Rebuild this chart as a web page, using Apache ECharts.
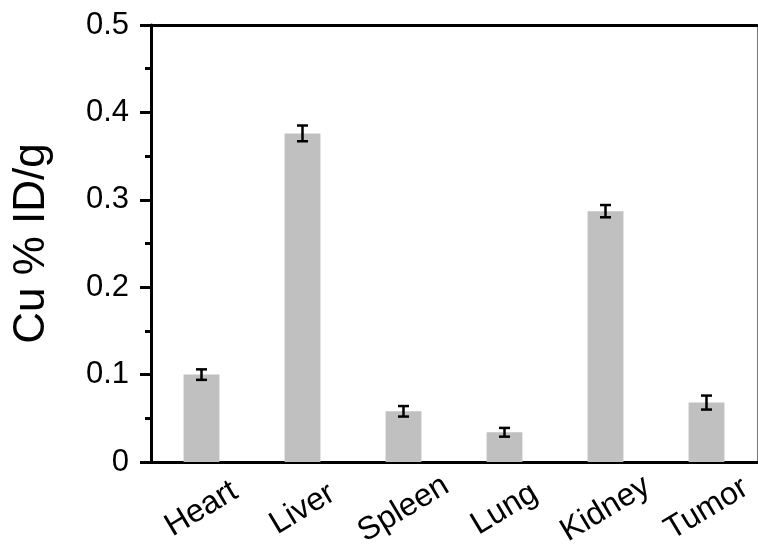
<!DOCTYPE html>
<html>
<head>
<meta charset="utf-8">
<script src="https://cdn.jsdelivr.net/npm/echarts@6/dist/echarts.min.js"></script>
<style>
    html, body { margin: 0; padding: 0; background: #fff; }
    #chart { width: 758px; height: 551px; }
</style>
</head>
<body>
<div id="chart"></div>
<script>
const organs = ['Heart', 'Liver', 'Spleen', 'Lung', 'Kidney', 'Tumor']
const cuValues = [0.100, 0.376, 0.058, 0.034, 0.287, 0.068]
const cuErrors = [0.006, 0.009, 0.006, 0.005, 0.007, 0.008]
const yTicks = [0, 0.1, 0.2, 0.3, 0.4, 0.5]

const font = 'Arial, "Liberation Sans", sans-serif'

let chart = echarts.init(document.getElementById('chart'), null, { renderer: 'canvas' })

const errData = cuValues.map((v, i) => [i, v - cuErrors[i], v + cuErrors[i]])

let option = {
    animation: false,
    backgroundColor: '#fff',
    grid: { left: 151, right: 1, top: 25, bottom: 89 },
    xAxis: [
        {
            type: 'category',
            data: organs,
            axisLine: { onZero: false, lineStyle: { color: '#000', width: 3 } },
            axisTick: { show: false },
            axisLabel: {
                rotate: 31,
                align: 'center',
                verticalAlign: 'middle',
                margin: 47,
                fontSize: 32,
                fontFamily: font,
                color: '#000'
            }
        },
        {
            // top frame line
            type: 'category',
            position: 'top',
            data: organs,
            axisLine: { onZero: false, lineStyle: { color: '#000', width: 3 } },
            axisTick: { show: false },
            axisLabel: { show: false }
        }
    ],
    yAxis: [
        {
            type: 'value',
            min: yTicks[0],
            max: yTicks[yTicks.length - 1],
            interval: 0.1,
            name: 'Cu % ID/g',
            nameLocation: 'middle',
            nameGap: 97,
            nameTextStyle: { fontSize: 44, fontFamily: font, color: '#000' },
            axisLine: { show: true, onZero: false, lineStyle: { color: '#000', width: 3 } },
            axisTick: { show: true, length: 11, lineStyle: { color: '#000', width: 3 } },
            minorTick: { show: true, splitNumber: 2, length: 6, lineStyle: { color: '#000', width: 3 } },
            splitLine: { show: false },
            axisLabel: {
                fontSize: 31,
                fontFamily: font,
                color: '#000',
                margin: 22,
                formatter: v => (v === 0 ? '0' : v.toFixed(1))
            }
        },
        {
            // right frame line
            type: 'value',
            position: 'right',
            min: 0,
            max: 0.5,
            axisLine: { show: true, onZero: false, lineStyle: { color: '#777', width: 1 } },
            axisTick: { show: false },
            axisLabel: { show: false },
            splitLine: { show: false }
        }
    ],
    series: [
        {
            type: 'bar',
            data: cuValues,
            barWidth: '35.5%',
            itemStyle: { color: '#c0c0c0' }
        },
        {
            type: 'custom',
            data: errData,
            z: 5,
            renderItem: (params, api) => {
                const x = api.value(0)
                const lo = api.coord([x, api.value(1)])
                const hi = api.coord([x, api.value(2)])
                const half = 5.5
                const style = { stroke: '#000', lineWidth: 2.5 }
                return {
                    type: 'group',
                    children: [
                        { type: 'line', shape: { x1: lo[0], y1: lo[1], x2: hi[0], y2: hi[1] }, style },
                        { type: 'line', shape: { x1: hi[0] - half, y1: hi[1], x2: hi[0] + half, y2: hi[1] }, style },
                        { type: 'line', shape: { x1: lo[0] - half, y1: lo[1], x2: lo[0] + half, y2: lo[1] }, style }
                    ]
                }
            }
        }
    ]
}

chart.setOption(option, true)
</script>
</body>
</html>
